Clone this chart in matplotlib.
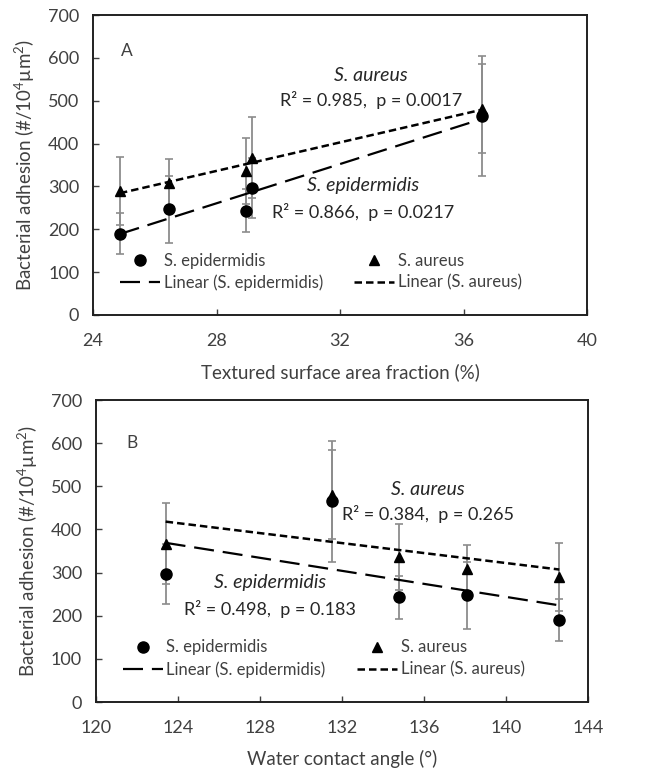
import numpy as np
import matplotlib as mpl
mpl.rc('font', family=['Lato', 'DejaVu Sans'])
mpl.rc('mathtext', fontset='custom', rm='Lato', it='Lato:italic')
import matplotlib.pyplot as plt

# Panel A: textured surface area fraction (%)
area_frac = [24.87, 26.46, 28.96, 29.15, 36.6]
# Panel B: water contact angle for the same samples
contact_angle = [142.6, 138.1, 134.8, 123.4, 131.5]

epid_mean = [190, 247, 243, 297, 465]
epid_err = [48, 78, 50, 70, 140]
aureus_mean = [289, 309, 336, 367, 481]
aureus_err = [79, 55, 76, 94, 104]

panels = [
    dict(x=area_frac, xlim=(24, 40), xticks=[24, 28, 32, 36, 40],
         xlabel='Textured surface area fraction (%)', letter='A',
         letter_xy=(24.9, 615),
         aur_txt=['S. aureus', 'R\u00b2 = 0.985,  p = 0.0017'],
         aur_xy=(33.0, 560), epi_txt=['S. epidermidis', 'R\u00b2 = 0.866,  p = 0.0217'],
         epi_xy=(32.75, 303),
         rect=[0.1416, 0.5925, 0.752, 0.388]),
    dict(x=contact_angle, xlim=(120, 144), xticks=[120, 124, 128, 132, 136, 140, 144],
         xlabel='Water contact angle (\u00b0)', letter='B',
         letter_xy=(121.5, 600),
         aur_txt=['S. aureus', 'R\u00b2 = 0.384,  p = 0.265'],
         aur_xy=(136.2, 493), epi_txt=['S. epidermidis', 'R\u00b2 = 0.498,  p = 0.183'],
         epi_xy=(128.5, 277),
         rect=[0.146, 0.0918, 0.749, 0.3907]),
]

txt_col = '#404040'
fig = plt.figure(figsize=(6.57, 7.73), dpi=100)

for p in panels:
    ax = fig.add_axes(p['rect'])
    x = np.array(p['x'])

    # error bars first so markers sit on top
    ax.errorbar(x, epid_mean, yerr=epid_err, fmt='none', ecolor='#8c8c8c',
                elinewidth=1.3, capsize=3, capthick=1.2, zorder=2)
    ax.errorbar(x, aureus_mean, yerr=aureus_err, fmt='none', ecolor='#8c8c8c',
                elinewidth=1.3, capsize=3, capthick=1.2, zorder=2)

    h1, = ax.plot(x, epid_mean, 'o', color='black', markersize=8,
                  linestyle='None', label='S. epidermidis', zorder=4)
    h3, = ax.plot(x, aureus_mean, '^', color='black', markersize=7.5,
                  linestyle='None', label='S. aureus', zorder=4)

    # Excel style linear trendlines over the data range
    xs = np.array([x.min(), x.max()])
    k, b = np.polyfit(x, epid_mean, 1)
    h2, = ax.plot(xs, k * xs + b, color='black', linewidth=1.6,
                  dashes=(9, 4), label='Linear (S. epidermidis)', zorder=3)
    k, b = np.polyfit(x, aureus_mean, 1)
    h4, = ax.plot(xs, k * xs + b, color='black', linewidth=1.8,
                  dashes=(3, 1.6), label='Linear (S. aureus)', zorder=3)

    ax.set_xlim(p['xlim'])
    ax.set_ylim(0, 700)
    ax.set_xticks(p['xticks'])
    ax.set_yticks(range(0, 701, 100))
    ax.tick_params(direction='in', length=4, width=1, labelsize=13,
                   colors=txt_col, pad=10)
    ax.tick_params(axis='x', pad=13)
    for s in ax.spines.values():
        s.set_linewidth(1.4)
        s.set_color('#202020')

    ax.set_xlabel(p['xlabel'], fontsize=13.5, color=txt_col, labelpad=10)
    ax.set_ylabel('Bacterial adhesion (#/10$^{4}$\u00b5m$^{2}$)', fontsize=13.5,
                  color=txt_col, labelpad=8)

    ax.text(p['letter_xy'][0], p['letter_xy'][1], p['letter'], fontsize=12.5,
            color=txt_col, ha='left', va='center')
    ax.text(p['aur_xy'][0], p['aur_xy'][1], p['aur_txt'][0], fontsize=14,
            style='italic', color='#262626', ha='center', va='center')
    ax.text(p['aur_xy'][0], p['aur_xy'][1] - 58, p['aur_txt'][1], fontsize=13,
            color='#262626', ha='center', va='center')
    ax.text(p['epi_xy'][0], p['epi_xy'][1], p['epi_txt'][0], fontsize=14,
            style='italic', color='#262626', ha='center', va='center')
    ax.text(p['epi_xy'][0], p['epi_xy'][1] - 62, p['epi_txt'][1], fontsize=13,
            color='#262626', ha='center', va='center')

    leg = ax.legend([h1, h2, h3, h4],
                    [h.get_label() for h in [h1, h2, h3, h4]],
                    ncol=2, frameon=False, fontsize=12, loc='lower left',
                    bbox_to_anchor=(0.055, 0.08), handlelength=2.4,
                    handletextpad=0.2, columnspacing=1.9, labelspacing=0.35,
                    borderaxespad=0, borderpad=0)
    for t in leg.get_texts():
        t.set_color(txt_col)

fig.savefig('out.png', dpi=100)
